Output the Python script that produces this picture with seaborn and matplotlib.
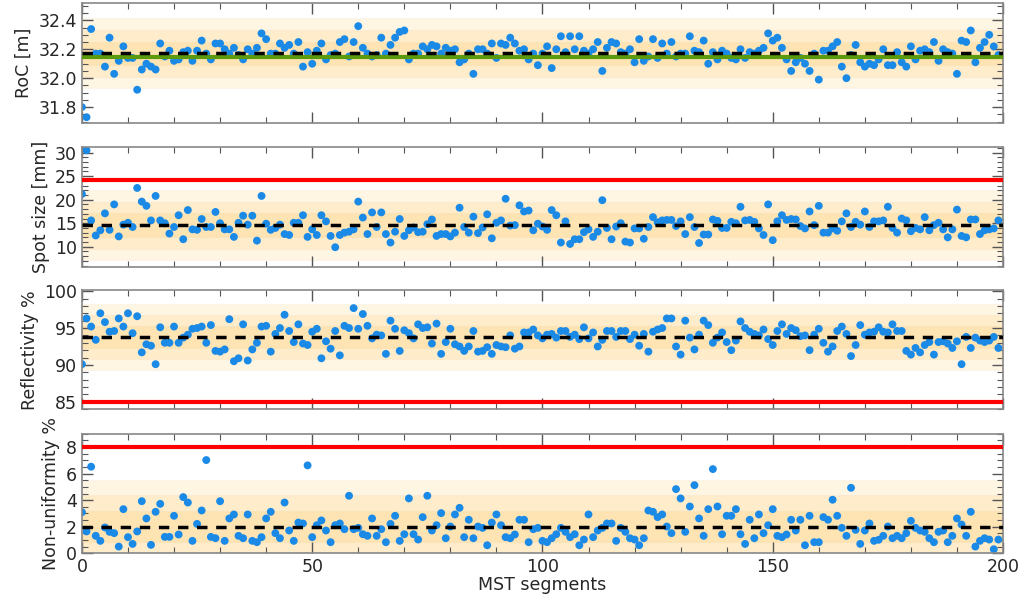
import numpy as np
import matplotlib
matplotlib.use("Agg")
import matplotlib.pyplot as plt
import seaborn as sns
from matplotlib.ticker import MultipleLocator

# values, one per MST segment (0..199)
roc = [31.80, 31.73, 32.34, 32.17, 32.17, 32.08, 32.28, 32.03, 32.12, 32.22,
       32.14, 32.14, 31.92, 32.06, 32.10, 32.08, 32.06, 32.24, 32.15, 32.19,
       32.12, 32.13, 32.18, 32.19, 32.12, 32.19, 32.26, 32.17, 32.13, 32.24,
       32.24, 32.20, 32.17, 32.21, 32.16, 32.13, 32.20, 32.17, 32.21, 32.31,
       32.27, 32.17, 32.17, 32.24, 32.21, 32.23, 32.17, 32.25, 32.08, 32.18,
       32.10, 32.19, 32.24, 32.13, 32.16, 32.17, 32.25, 32.27, 32.15, 32.25,
       32.36, 32.21, 32.17, 32.15, 32.16, 32.28, 32.17, 32.23, 32.28, 32.32,
       32.33, 32.13, 32.17, 32.17, 32.22, 32.20, 32.23, 32.22, 32.17, 32.21,
       32.19, 32.20, 32.11, 32.13, 32.17, 32.03, 32.20, 32.20, 32.17, 32.24,
       32.14, 32.24, 32.23, 32.28, 32.24, 32.19, 32.20, 32.13, 32.17, 32.09,
       32.17, 32.22, 32.07, 32.20, 32.29, 32.18, 32.29, 32.20, 32.29, 32.19,
       32.17, 32.20, 32.25, 32.05, 32.21, 32.25, 32.24, 32.18, 32.17, 32.20,
       32.11, 32.27, 32.12, 32.15, 32.27, 32.14, 32.24, 32.17, 32.25, 32.15,
       32.17, 32.17, 32.29, 32.19, 32.18, 32.26, 32.10, 32.18, 32.13, 32.19,
       32.17, 32.14, 32.13, 32.20, 32.14, 32.18, 32.17, 32.19, 32.21, 32.31,
       32.26, 32.28, 32.21, 32.13, 32.05, 32.11, 32.14, 32.10, 32.05, 32.17,
       31.99, 32.19, 32.19, 32.22, 32.25, 32.08, 32.00, 32.16, 32.23, 32.11,
       32.08, 32.10, 32.09, 32.13, 32.20, 32.09, 32.09, 32.18, 32.11, 32.08,
       32.22, 32.13, 32.19, 32.20, 32.18, 32.25, 32.12, 32.20, 32.18, 32.17,
       32.03, 32.26, 32.25, 32.33, 32.11, 32.21, 32.25, 32.30, 32.22, 32.16]

spot = [21.2, 30.5, 15.6, 12.4, 13.5, 17.1, 13.6, 19.0, 12.2, 14.7,
        15.1, 14.2, 22.5, 19.6, 18.7, 15.6, 20.8, 15.6, 15.0, 12.8,
        14.2, 16.7, 11.6, 17.8, 13.7, 13.6, 15.9, 14.2, 14.2, 17.4,
        15.0, 13.7, 13.7, 12.1, 15.1, 16.6, 14.7, 16.6, 11.3, 20.8,
        14.9, 13.6, 14.0, 14.7, 12.7, 12.5, 15.1, 15.1, 16.7, 12.1,
        13.7, 12.5, 16.7, 15.4, 12.3, 9.9, 12.5, 13.0, 13.2, 13.7,
        19.6, 16.2, 12.7, 17.3, 14.2, 17.3, 12.7, 10.9, 13.2, 15.9,
        12.3, 13.5, 14.1, 13.1, 13.2, 14.8, 15.8, 12.3, 12.7, 12.7,
        12.2, 13.0, 18.3, 14.2, 13.0, 16.4, 12.9, 14.1, 16.9, 11.8,
        15.1, 15.6, 20.2, 14.5, 14.6, 18.8, 17.5, 17.7, 13.5, 14.9,
        14.3, 13.6, 17.8, 16.7, 10.9, 15.4, 10.6, 11.6, 11.6, 13.1,
        13.7, 12.1, 13.2, 19.9, 14.0, 11.6, 14.3, 15.0, 11.1, 10.9,
        13.9, 13.9, 11.7, 14.2, 16.3, 15.2, 15.6, 15.7, 15.7, 14.4,
        15.4, 12.7, 16.3, 14.2, 10.8, 12.6, 12.6, 15.8, 15.5, 14.0,
        14.0, 15.3, 15.0, 18.5, 15.6, 15.7, 15.3, 13.9, 12.5, 19.0,
        11.4, 15.4, 16.7, 15.7, 15.9, 15.8, 14.4, 13.9, 17.5, 14.6,
        18.7, 13.0, 13.0, 13.9, 13.4, 15.4, 17.1, 14.2, 15.3, 14.7,
        17.5, 14.2, 15.4, 15.4, 15.6, 18.5, 14.0, 13.0, 16.0, 15.6,
        13.3, 14.0, 13.7, 16.3, 13.5, 14.6, 15.1, 13.7, 12.0, 13.7,
        17.9, 12.3, 12.0, 15.8, 15.8, 12.7, 13.5, 13.7, 13.9, 15.6]

refl = [90.1, 96.3, 95.2, 93.4, 97.0, 95.8, 94.5, 94.6, 96.3, 95.2,
        97.0, 94.3, 96.6, 91.7, 92.8, 92.6, 90.1, 95.1, 93.0, 93.0,
        95.2, 93.0, 93.7, 94.1, 94.9, 95.0, 95.2, 93.0, 95.4, 91.9,
        91.8, 92.1, 96.2, 90.5, 90.9, 95.5, 90.6, 92.1, 93.0, 95.2,
        95.3, 91.8, 94.2, 95.0, 96.8, 94.6, 93.1, 95.5, 92.9, 92.7,
        94.5, 94.9, 90.9, 93.2, 92.2, 94.6, 91.3, 95.3, 95.0, 97.7,
        94.9, 96.9, 95.3, 93.6, 94.1, 94.0, 91.5, 96.0, 94.9, 91.9,
        94.7, 94.3, 93.6, 95.5, 95.0, 95.1, 92.9, 95.6, 91.5, 93.1,
        94.9, 92.8, 92.5, 91.9, 92.5, 94.6, 91.8, 91.9, 92.4, 91.5,
        92.7, 92.5, 92.4, 94.0, 92.2, 92.5, 94.4, 94.4, 94.8, 94.0,
        93.6, 94.1, 94.2, 93.7, 94.6, 94.6, 93.8, 94.1, 93.5, 95.1,
        93.6, 94.4, 92.5, 93.4, 94.6, 94.6, 93.8, 94.6, 94.6, 93.5,
        94.1, 92.6, 94.2, 91.8, 94.5, 94.8, 95.0, 96.3, 96.3, 92.5,
        91.4, 96.0, 93.7, 92.1, 94.1, 96.0, 95.4, 93.0, 93.7, 94.4,
        93.1, 92.0, 93.3, 95.9, 95.0, 94.5, 94.2, 94.0, 94.8, 93.5,
        92.7, 94.6, 95.5, 94.2, 95.0, 94.7, 93.9, 94.0, 92.0, 94.1,
        94.9, 93.0, 91.8, 92.5, 94.6, 95.2, 94.2, 91.2, 92.7, 95.4,
        94.1, 94.4, 94.5, 95.1, 94.5, 94.4, 95.5, 94.6, 94.6, 91.9,
        91.4, 92.3, 91.7, 92.7, 93.1, 91.4, 93.1, 93.2, 92.9, 92.3,
        93.2, 90.1, 93.8, 92.3, 93.7, 93.3, 93.1, 93.3, 93.8, 92.3]

nonunif = [3.09, 1.64, 6.52, 1.31, 0.93, 1.94, 1.61, 1.51, 0.50, 3.32,
           1.21, 0.70, 1.64, 3.92, 2.62, 0.63, 3.12, 3.72, 1.23, 1.23,
           2.82, 1.41, 4.23, 3.82, 0.93, 2.21, 3.22, 7.02, 1.23, 1.13,
           3.92, 0.93, 2.62, 2.92, 1.31, 1.13, 2.92, 0.93, 0.83, 1.21,
           2.62, 3.12, 1.51, 1.13, 3.82, 1.71, 0.93, 2.31, 2.24, 6.62,
           1.21, 2.11, 2.47, 1.71, 0.83, 2.11, 2.24, 1.81, 4.33, 1.81,
           1.91, 1.43, 1.31, 2.62, 1.31, 1.81, 0.83, 2.21, 2.82, 0.93,
           1.43, 4.13, 1.43, 1.03, 2.72, 4.33, 1.71, 2.11, 3.02, 1.13,
           2.01, 2.92, 3.42, 1.21, 2.52, 1.13, 2.01, 1.91, 0.60, 2.31,
           2.92, 2.11, 1.21, 1.13, 1.41, 2.52, 2.52, 0.83, 1.81, 1.91,
           0.93, 0.83, 1.13, 1.43, 1.91, 1.61, 1.21, 1.43, 0.60, 1.03,
           2.92, 1.21, 1.71, 1.91, 2.24, 2.24, 0.93, 1.91, 1.61, 1.13,
           1.03, 0.60, 1.13, 3.22, 3.12, 2.72, 2.92, 2.01, 1.51, 4.83,
           4.13, 1.61, 3.52, 5.13, 2.62, 1.31, 3.32, 6.34, 3.52, 1.43,
           2.82, 2.82, 3.32, 1.43, 0.70, 2.52, 1.13, 2.92, 1.51, 2.11,
           3.32, 1.31, 1.21, 1.41, 2.52, 1.71, 2.52, 0.60, 2.82, 0.83,
           0.83, 2.72, 2.52, 4.03, 2.82, 1.91, 1.31, 4.93, 1.76, 0.70,
           1.71, 2.24, 0.93, 1.01, 1.31, 2.01, 1.13, 1.31, 1.13, 1.51,
           2.44, 1.91, 1.71, 1.61, 1.13, 0.83, 1.61, 1.71, 0.83, 1.31,
           2.62, 2.16, 1.31, 3.12, 0.50, 0.93, 1.13, 1.03, 0.30, 1.03]

segments = np.arange(len(roc))

# mean / sigma of each panel and the reference lines
panels = [
    dict(y=roc, label="RoC [m]", mean=32.172, sigma=0.081, ylim=(31.69, 32.52),
         major=0.2, minor=0.05, ref=32.147, ref_color="#5b9a0c"),
    dict(y=spot, label="Spot size [mm]", mean=14.6, sigma=2.5, ylim=(5.7, 31.2),
         major=5, minor=1, ref=24.1, ref_color="#ff0000"),
    dict(y=refl, label="Reflectivity %", mean=93.74, sigma=1.49, ylim=(84.0, 100.1),
         major=5, minor=1, ref=85.0, ref_color="#ff0000"),
    dict(y=nonunif, label="Non-uniformity %", mean=2.0, sigma=1.18, ylim=(0, 9),
         major=2, minor=0.5, ref=8.0, ref_color="#ff0000"),
]

sns.set_style("ticks")
plt.rcParams['font.family'] = ['DejaVu Sans']

fig = plt.figure(figsize=(10.24, 6), dpi=100)
rects = [(0.080, 0.795, 0.8995, 0.200),
         (0.080, 0.555, 0.8995, 0.200),
         (0.080, 0.318, 0.8995, 0.198),
         (0.080, 0.078, 0.8995, 0.199)]

for k, (p, r) in enumerate(zip(panels, rects)):
    ax = fig.add_axes(r)
    m, s = p["mean"], p["sigma"]
    for n in (3, 2, 1):
        ax.axhspan(m - n * s, m + n * s, facecolor="#ffa500", alpha=0.11,
                   edgecolor="#e8c9a0", linewidth=0.8, zorder=0)
    sns.scatterplot(x=segments, y=p["y"], ax=ax, color="#1a8ae6", s=32,
                    edgecolor="none", zorder=2)
    ax.axhline(p["ref"], color=p["ref_color"], lw=3, zorder=3)
    ax.axhline(m, color="black", lw=2.5, ls=(0, (3, 2.5)), zorder=4)

    ax.set_xlim(0, 200)
    ax.set_ylim(*p["ylim"])
    ax.xaxis.set_major_locator(MultipleLocator(50))
    ax.xaxis.set_minor_locator(MultipleLocator(10))
    ax.yaxis.set_major_locator(MultipleLocator(p["major"]))
    ax.yaxis.set_minor_locator(MultipleLocator(p["minor"]))
    ax.tick_params(which="both", direction="in", top=True, right=True,
                   color="#555555", labelsize=12.5)
    ax.tick_params(which="major", length=8, width=1)
    ax.tick_params(which="minor", length=4.5, width=0.8)
    for sp in ax.spines.values():
        sp.set_color("#888888")
        sp.set_linewidth(1.2)
    ax.set_ylabel(p["label"], fontsize=12.5)
    ax.set_xlabel("")
    if k < 3:
        ax.set_xticklabels([])
    else:
        ax.set_xlabel("MST segments", fontsize=12.5, labelpad=0)

fig.align_ylabels(fig.axes)
fig.savefig("out.png", dpi=100)
